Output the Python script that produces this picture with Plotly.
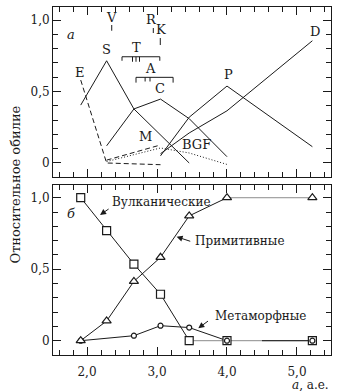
import plotly.graph_objects as go

# ---------- panel б (fractions by zone) ----------
zones = [1.91, 2.28, 2.67, 3.05, 3.46, 4.0, 5.22]
volcanic = [1.0, 0.77, 0.535, 0.325, 0.0, 0.0, 0.0]
primitive = [0.0, 0.138, 0.415, 0.583, 0.873, 1.0, 1.0]
meta_x = [1.91, 2.67, 3.05, 3.46, 4.0, 5.22]
metamorphic = [0.0, 0.035, 0.105, 0.092, 0.0, 0.0]

# ---------- panel a (taxonomic types) ----------
E_x = [1.91, 2.28, 3.05];               E_y = [0.58, 0.0, -0.012]
S_x = [1.91, 2.28, 2.67, 3.05, 3.46];   S_y = [0.405, 0.715, 0.378, 0.196, 0.0]
C_x = [2.28, 2.67, 3.05, 3.46, 4.0];    C_y = [0.12, 0.378, 0.447, 0.31, 0.044]
M_x = [2.28, 3.05];                     M_y = [0.02, 0.126]
P_x = [3.05, 3.46, 4.0, 5.22];          P_y = [0.05, 0.32, 0.538, 0.114]
D_x = [3.05, 3.46, 4.0, 5.22];          D_y = [0.065, 0.21, 0.365, 0.855]
BGF_x = [2.28, 3.05, 3.46, 4.0];        BGF_y = [0.01, 0.105, 0.07, -0.01]

# small types: position marks (x, y_top, y_bottom)
marks_x = [2.353, 2.947, 3.047]
marks_top = [0.965, 0.944, 0.874]
marks_bot = [0.925, 0.909, 0.825]
# ranges (T, A): left, right, level, end-tick bottom, inner ticks
T_range = [2.5, 3.04]; T_level = 0.743; T_end = 0.715; T_inner = [2.65, 2.70, 2.75]; T_inner_bot = 0.708
A_range = [2.7, 3.23]; A_level = 0.599; A_end = 0.562; A_inner = [2.83, 2.90]; A_inner_bot = 0.57

type_labels = ["E", "S", "C", "M", "BGF", "P", "D", "T", "A", "V", "R", "K"]
label_x = [1.90, 2.28, 3.04, 2.83, 3.566, 4.02, 5.26, 2.70, 2.91, 2.353, 2.924, 3.057]
label_y = [0.615, 0.774, 0.50, 0.161, 0.11, 0.60, 0.902, 0.79, 0.638, 1.0, 0.986, 0.916]

x_ticks = [2, 3, 4, 5]
x_ticktext = ["2,0", "3,0", "4,0", "5,0"]
y_ticks = [0, 0.5, 1.0]
y_ticktext = ["0", "0,5", "1,0"]

FONT = "DejaVu Serif"
INK = "#1a1a1a"

fig = go.Figure()

def line(x, y, xa, ya, dash="solid", color=INK, width=1):
    fig.add_trace(go.Scatter(x=x, y=y, mode="lines", xaxis=xa, yaxis=ya,
                             line=dict(color=color, width=width, dash=dash),
                             hoverinfo="skip", showlegend=False))

# panel a lines
line(E_x, E_y, "x", "y", dash="5px,3px")
line(M_x, M_y, "x", "y", dash="5px,3px")
line(BGF_x, BGF_y, "x", "y", dash="1px,2px")
line(S_x, S_y, "x", "y")
line(C_x, C_y, "x", "y")
line(P_x, P_y, "x", "y")
line(D_x, D_y, "x", "y")

# position marks
mx, my = [], []
for xv, t, b in zip(marks_x, marks_top, marks_bot):
    mx += [xv, xv, None]; my += [t, b, None]
line(mx, my, "x", "y")

def bracket(rng, level, end, inner, inner_bot):
    bx = [rng[0], rng[0], rng[1], rng[1], None]
    by = [end, level, level, end, None]
    for xv in inner:
        bx += [xv, xv, None]; by += [level, inner_bot, None]
    line(bx, by, "x", "y")

bracket(T_range, T_level, T_end, T_inner, T_inner_bot)
bracket(A_range, A_level, A_end, A_inner, A_inner_bot)

# panel б lines
line(zones[:5], volcanic[:5], "x2", "y2")
line(zones[4:], volcanic[4:], "x2", "y2", color="#8c8c8c")
line(zones[:6], primitive[:6], "x2", "y2")
line(zones[5:], primitive[5:], "x2", "y2", color="#8c8c8c")
line(meta_x[:5], metamorphic[:5], "x2", "y2")
line([4.5, 5.22], [0, 0], "x2", "y2")

def markers(x, y, symbol, size):
    fig.add_trace(go.Scatter(x=x, y=y, mode="markers", xaxis="x2", yaxis="y2",
                             marker=dict(symbol=symbol, size=size, color="white",
                                         line=dict(color=INK, width=1.2)),
                             hoverinfo="skip", showlegend=False))

markers(zones, volcanic, "square", 8)
markers(meta_x, metamorphic, "circle", 5)
markers(zones, primitive, "triangle-up", 8)

ann = []
for t, xv, yv in zip(type_labels, label_x, label_y):
    ann.append(dict(x=xv, y=yv, xref="x", yref="y", text=t, showarrow=False, yshift=3,
                    font=dict(family=FONT, size=13, color=INK)))
ann.append(dict(x=1.767, y=0.883, xref="x", yref="y", text="<i>a</i>", showarrow=False,
                yshift=2, font=dict(family=FONT, size=13, color=INK)))
ann.append(dict(x=1.767, y=0.879, xref="x2", yref="y2", text="<i>б</i>", showarrow=False,
                yshift=2, font=dict(family=FONT, size=13, color=INK)))

def arrow_label(text, tx, ty, tail, head):
    ann.append(dict(x=tx, y=ty, xref="x2", yref="y2", text=text, showarrow=False,
                    xanchor="left", yanchor="middle", yshift=1,
                    font=dict(family=FONT, size=12, color=INK)))
    ann.append(dict(x=head[0], y=head[1], ax=tail[0], ay=tail[1], xref="x2", yref="y2",
                    axref="x2", ayref="y2", text="", showarrow=True, arrowhead=2,
                    arrowsize=1.2, arrowwidth=1, arrowcolor=INK))

arrow_label("Вулканические", 2.33, 0.963, (2.33, 0.928), (2.186, 0.88))
arrow_label("Примитивные", 3.51, 0.692, (3.496, 0.692), (3.28, 0.727))
arrow_label("Метаморфные", 3.796, 0.168, (3.75, 0.145), (3.59, 0.087))

ann.append(dict(x=0, y=0.49, xref="paper", yref="paper", text="Относительное обилие",
                textangle=-90, showarrow=False, xanchor="center", yanchor="middle",
                xshift=-38, font=dict(family=FONT, size=13, color=INK)))
ann.append(dict(x=1.0, y=-0.085, xref="paper", yref="paper", text="<i>a</i>, а.е.",
                showarrow=False, xanchor="right", yanchor="middle",
                font=dict(family=FONT, size=12, color=INK)))

xcommon = dict(range=[1.514, 5.486], showline=True, linecolor=INK, linewidth=1,
               mirror="allticks", ticks="inside", ticklen=8, tickcolor=INK,
               tickvals=x_ticks, ticktext=x_ticktext, showgrid=False, zeroline=False,
               minor=dict(tickmode="linear", tick0=0, dtick=0.2, ticks="inside",
                          ticklen=5, tickcolor=INK, showgrid=False),
               tickfont=dict(family=FONT, size=12, color=INK))
ycommon = dict(showline=True, linecolor=INK, linewidth=1, mirror="allticks",
               ticks="inside", ticklen=8, tickcolor=INK, tickvals=y_ticks,
               ticktext=y_ticktext, showgrid=False, zeroline=False,
               minor=dict(tickmode="linear", tick0=0, dtick=0.1, ticks="inside",
                          ticklen=5, tickcolor=INK, showgrid=False),
               tickfont=dict(family=FONT, size=12, color=INK))

fig.update_layout(
    width=353, height=391,
    margin=dict(l=53, r=22, t=7, b=36),
    paper_bgcolor="white", plot_bgcolor="white",
    showlegend=False,
    xaxis=dict(**xcommon, anchor="y", showticklabels=False),
    yaxis=dict(**ycommon, domain=[0.5115, 1.0], range=[-0.098, 1.091], anchor="x"),
    xaxis2=dict(**xcommon, anchor="y2", ticklabelstandoff=6),
    yaxis2=dict(**ycommon, domain=[0.0, 0.4885], range=[-0.10, 1.089], anchor="x2"),
    annotations=ann,
)

fig.write_html("out.html")
